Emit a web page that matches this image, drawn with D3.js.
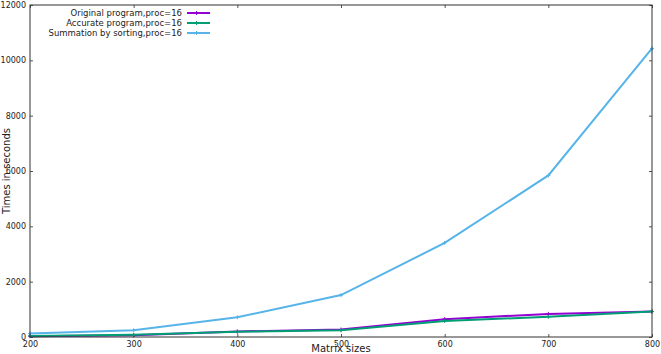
<!DOCTYPE html>
<html><head><meta charset="utf-8">
<script src="https://cdn.jsdelivr.net/npm/d3@7"></script>
<style>body{margin:0;background:#fff}svg{display:block}text{font-family:"DejaVu Sans",sans-serif;fill:#222}</style>
</head><body><svg id="c" width="661" height="354"></svg>
<script>
const sizes = [200, 300, 400, 500, 600, 700, 800];
const original = [30, 60, 200, 270, 645, 835, 920];
const accurate = [40, 80, 190, 240, 580, 730, 920];
const sorting = [130, 245, 715, 1515, 3400, 5840, 10430];
const seriesNames = ["Original program,proc=16", "Accurate program,proc=16", "Summation by sorting,proc=16"];
const seriesColors = ["#9400d3", "#009e73", "#56b4e9"];
const xTicks = [200, 300, 400, 500, 600, 700, 800];
const yTicks = [0, 2000, 4000, 6000, 8000, 10000, 12000];

const svg = d3.select("#c");
const L = 30, R = 652, T = 5, B = 337;
const x = d3.scaleLinear().domain([200, 800]).range([L, R]);
const y = d3.scaleLinear().domain([0, 12000]).range([B, T]);

const g = svg.append("g");
// axes
const ax = (sel) => sel.call(s => s.select(".domain").remove());
g.append("g").attr("transform", `translate(0,${B})`)
  .call(d3.axisBottom(x).tickValues(xTicks).tickSize(-3).tickPadding(4).tickFormat(d3.format("d")))
  .call(ax).call(s => s.selectAll("text").attr("font-size", 8).attr("fill", "#222"))
  .call(s => s.selectAll("line").attr("stroke", "#555"));
g.append("g").attr("transform", `translate(0,${T})`)
  .call(d3.axisTop(x).tickValues(xTicks).tickSize(-3).tickFormat(""))
  .call(ax).call(s => s.selectAll("line").attr("stroke", "#555"));
g.append("g").attr("transform", `translate(${L},0)`)
  .call(d3.axisLeft(y).tickValues(yTicks).tickSize(-3).tickPadding(4).tickFormat(d3.format("d")))
  .call(ax).call(s => s.selectAll("text").attr("font-size", 8).attr("fill", "#222"))
  .call(s => s.selectAll("line").attr("stroke", "#555"));
g.append("g").attr("transform", `translate(${R},0)`)
  .call(d3.axisRight(y).tickValues(yTicks).tickSize(-3).tickFormat(""))
  .call(ax).call(s => s.selectAll("line").attr("stroke", "#555"));

// lines
const data = [original, accurate, sorting];
const line = d3.line().x((d, i) => x(sizes[i])).y(d => y(d));
data.forEach((vals, k) => {
  g.append("path").datum(vals).attr("fill", "none").attr("stroke", seriesColors[k])
    .attr("stroke-width", 2).attr("d", line);
  g.selectAll(null).data(vals).enter().append("path")
    .attr("d", (d, i) => `M${x(sizes[i]) - 2},${y(d)}h4M${x(sizes[i])},${y(d) - 2}v4`)
    .attr("stroke", seriesColors[k]).attr("stroke-width", 1);
});

// border
g.append("rect").attr("x", L).attr("y", T).attr("width", R - L).attr("height", B - T)
  .attr("fill", "none").attr("stroke", "#333").attr("stroke-width", 1);

// legend
seriesNames.forEach((n, k) => {
  const yy = 13 + k * 10;
  g.append("text").attr("x", 182).attr("y", yy + 3).attr("text-anchor", "end").attr("font-size", 8.5).text(n);
  g.append("line").attr("x1", 187).attr("x2", 210).attr("y1", yy).attr("y2", yy)
    .attr("stroke", seriesColors[k]).attr("stroke-width", 2);
  g.append("path").attr("d", `M196.5,${yy - 2}v4M194.5,${yy}h4`).attr("stroke", seriesColors[k]);
});

// axis titles
g.append("text").attr("x", 341).attr("y", 352).attr("text-anchor", "middle").attr("font-size", 10).text("Matrix sizes");
g.append("text").attr("transform", "translate(10,171) rotate(-90)").attr("text-anchor", "middle").attr("font-size", 10).text("Times in seconds");
</script></body></html>
